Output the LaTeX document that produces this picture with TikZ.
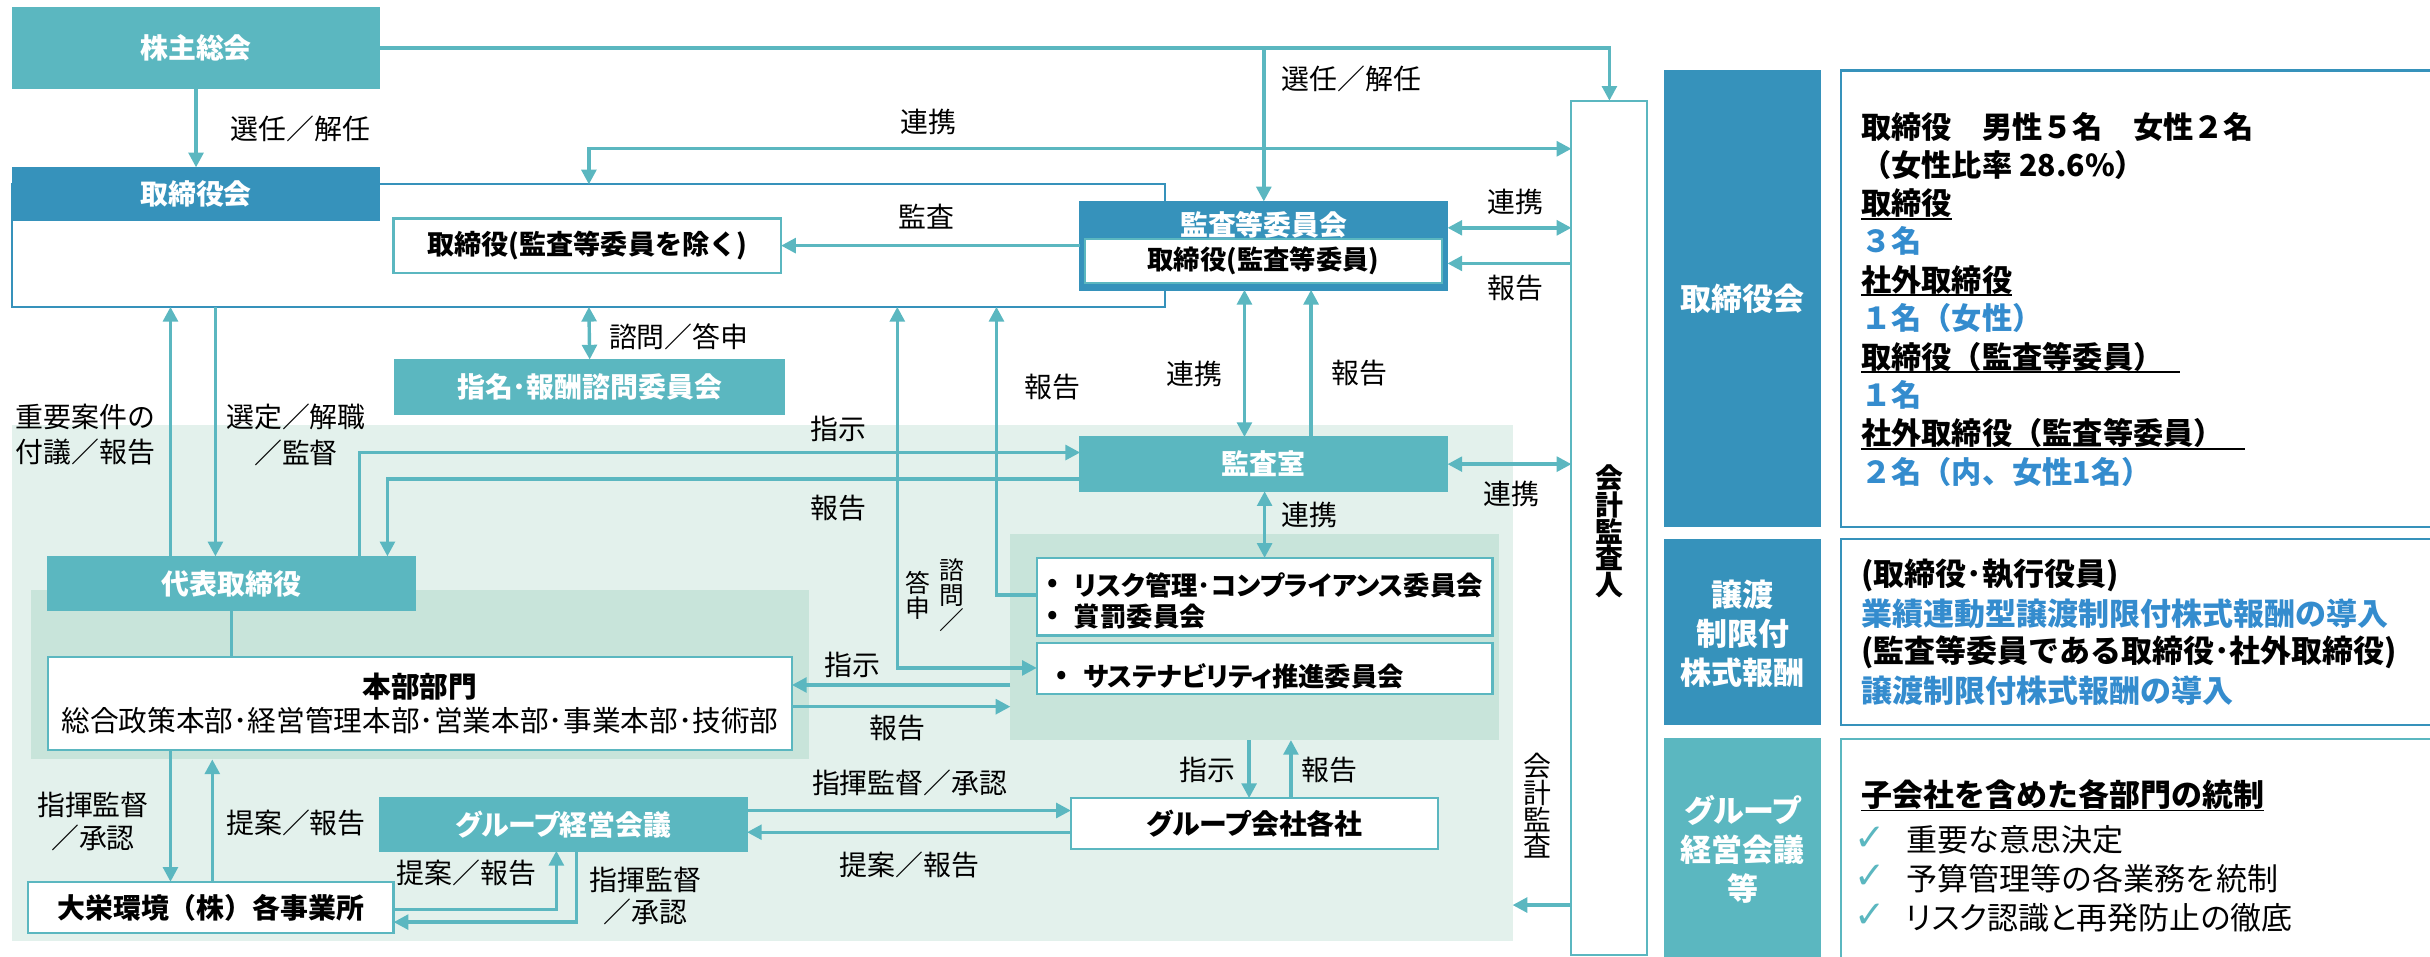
\documentclass[tikz,border=0pt]{standalone}
\usepackage{fontspec}
\setmainfont{Noto Sans CJK JP}
\newfontfamily\jpk{Noto Sans CJK JP}[RawFeature=+palt]
\newfontfamily\symfam{DejaVu Sans}
\usetikzlibrary{arrows.meta}
\definecolor{teal1}{RGB}{91,183,192}
\definecolor{navy1}{RGB}{54,146,187}
\definecolor{bgl}{RGB}{227,241,236}
\definecolor{bgm}{RGB}{200,228,218}
\definecolor{bluetxt}{RGB}{52,140,206}
\tikzset{
  tealbox/.style={fill=teal1, draw=teal1, line width=1pt, text=white, font=\fontsize{18}{21}\selectfont\bfseries},
  navybox/.style={fill=navy1, draw=navy1, line width=1pt, text=white, font=\fontsize{18}{21}\selectfont\bfseries},
  whitebox/.style={fill=white, draw=teal1, line width=1.5pt, font=\fontsize{18}{21}\selectfont\bfseries},
  conn/.style={draw=teal1, line width=2.2pt},
  arr/.style={conn, -{Triangle[length=9.5pt,width=9.5pt]}},
  darr/.style={conn, {Triangle[length=9.5pt,width=9.5pt]}-{Triangle[length=9.5pt,width=9.5pt]}},
  lbl/.style={font=\fontsize{18}{23}\selectfont},
  rtxt/.style={anchor=west, font=\fontsize{19.5}{22}\selectfont\bfseries},
  rblue/.style={rtxt, text=bluetxt},
  stxt/.style={anchor=west, font=\fontsize{20}{22}\selectfont\bfseries},
  sblue/.style={stxt, text=bluetxt},
  gtxt/.style={anchor=west, font=\fontsize{20}{22}\selectfont},
  chk/.style={text=teal1, font=\symfam\fontsize{24}{26}\selectfont},
  uline/.style={draw=black, line width=1.2pt},
  sidelab/.style={text=white, align=center, font=\fontsize{20}{25}\selectfont\bfseries},
}
\begin{document}
\begin{tikzpicture}[x=1pt,y=-1pt, every node/.style={inner sep=0pt, outer sep=0pt}]
\useasboundingbox (0,0) rectangle (1568,617);

% backgrounds
\node[fill=bgl, minimum width=968, minimum height=333] (bgbig) at (492,440.5) {};
\node[fill=bgm, minimum width=502, minimum height=109] (bghonbu) at (271,435.5) {};
\node[fill=bgm, minimum width=315, minimum height=133] (bgcomm) at (809.5,411) {};

% main boxes
\node[tealbox, minimum width=237, minimum height=52] (kabu) at (126.5,31) {株主総会};
\node[draw=navy1, line width=1.3pt, minimum width=744, minimum height=79] (board) at (380,158.5) {};
\node[navybox, minimum width=237, minimum height=34] (boardhead) at (126.5,125) {取締役会};
\node[whitebox, minimum width=250, minimum height=35, font=\fontsize{17.5}{21}\selectfont\bfseries] (torijo) at (379,158.5) {取締役(監査等委員を除く)};
\node[navybox, minimum width=237, minimum height=57] (kansa) at (815.5,158.5) {};
\node[text=white, font=\fontsize{18}{21}\selectfont\bfseries] (kansatitle) at (815.5,145) {監査等委員会};
\node[fill=white, draw=teal1, line width=1.3pt, minimum width=230, minimum height=28, font=\fontsize{17}{21}\selectfont\bfseries] (kansain) at (815.3,168.4) {取締役(監査等委員)};
\node[tealbox, minimum width=251, minimum height=35] (shimei) at (380.5,249.5) {指名･報酬諮問委員会};
\node[tealbox, minimum width=237, minimum height=35] (kansashitsu) at (815.5,299.5) {監査室};
\node[tealbox, minimum width=237, minimum height=35] (daihyo) at (149.5,376.5) {代表取締役};
\node[whitebox, minimum width=480, minimum height=60, align=center, font=\fontsize{18.5}{22}\selectfont] (honbu) at (271,454) {{\bfseries 本部部門}\\総合政策本部･経営管理本部･営業本部･事業本部･技術部};
\node[whitebox, minimum width=294, minimum height=50] (risk) at (816,385) {};
\node[whitebox, minimum width=294, minimum height=33] (sustain) at (816,431.5) {};
\node[font=\fontsize{17}{20}\selectfont\bfseries] (b1) at (679,377.8) {•};
\node[anchor=west, font=\jpk\fontsize{17}{20}\selectfont\bfseries] (risk1) at (693,377.5) {リスク管理･コンプライアンス委員会};
\node[font=\fontsize{17}{20}\selectfont\bfseries] (b2) at (679,398.3) {•};
\node[anchor=west, font=\jpk\fontsize{17}{20}\selectfont\bfseries] (risk2) at (693,398) {賞罰委員会};
\node[font=\fontsize{17}{20}\selectfont\bfseries] (b3) at (685,437.4) {•};
\node[anchor=west, font=\jpk\fontsize{17}{20}\selectfont\bfseries] (sus1) at (699,436.6) {サステナビリティ推進委員会};
\node[tealbox, minimum width=237, minimum height=34, font=\jpk\fontsize{18}{21}\selectfont\bfseries] (groupmeet) at (363.5,532) {グループ経営会議};
\node[whitebox, minimum width=237, minimum height=33, font=\jpk\fontsize{18}{21}\selectfont\bfseries] (groupco) at (809.5,531.5) {グループ会社各社};
\node[whitebox, minimum width=236, minimum height=33] (daiei) at (136,585.5) {大栄環境（株）各事業所};
\node[fill=white, draw=teal1, line width=1.3pt, minimum width=49, minimum height=551] (kaikei) at (1038.5,340.5) {};
\node[align=center, font=\fontsize{18}{17.2}\selectfont\bfseries] (kaikeitxt) at (1038.5,343) {会\\計\\監\\査\\人};

% helper coordinates
\coordinate (y96) at (0,96);
\coordinate (y147) at (0,147);
\coordinate (y170) at (0,170);
\coordinate (y292) at (0,292);
\coordinate (y309) at (0,309);
\coordinate (y384) at (0,384);
\coordinate (y431) at (0,431);
\coordinate (y442) at (0,442);
\coordinate (y456) at (0,456);
\coordinate (y523) at (0,523);
\coordinate (y537) at (0,537);
\coordinate (y584) at (0,584);
\coordinate (y587) at (0,587);
\coordinate (y595) at (0,595);
\coordinate (x110) at (110,0);
\coordinate (x137) at (137,0);
\coordinate (x139) at (139,0);
\coordinate (x232) at (232,0);
\coordinate (x250) at (250,0);
\coordinate (x359) at (359,0);
\coordinate (x372) at (372,0);
\coordinate (x579) at (579,0);
\coordinate (x643) at (643,0);
\coordinate (x803) at (803,0);
\coordinate (x806) at (806,0);
\coordinate (x833) at (833,0);
\coordinate (x846) at (846,0);

% connectors
\draw[arr] (kabu.south) -- (boardhead.north);
\draw[arr] (kabu.east) -- (kabu.east -| kaikei.north) -- (kaikei.north);
\draw[arr] (kabu.east -| kansa.north) -- (kansa.north);
\draw[darr] (board.north) |- (kaikei.west |- y96);
\draw[arr] (kansa.west |- torijo.east) -- (torijo.east);
\draw[darr] (kansa.east |- y147) -- (kaikei.west |- y147);
\draw[arr] (kaikei.west |- y170) -- (kansa.east |- y170);
\draw[darr] (board.south) -- (shimei.north);
\draw[arr] (daihyo.north -| x110) -- (board.south -| x110);
\draw[arr] (board.south -| x139) -- (daihyo.north -| x139);
\draw[arr] (daihyo.north -| x232) |- (kansashitsu.west |- y292);
\draw[arr] (kansashitsu.west |- y309) -| (daihyo.north -| x250);
\draw[arr] (risk.west |- y384) -| (board.south -| x643);
\draw[darr] (board.south -| x579) |- (sustain.west |- y431);
\draw[darr] (kansa.south -| x803) -- (kansashitsu.north -| x803);
\draw[arr] (kansashitsu.north -| x846) -- (kansa.south -| x846);
\draw[darr] (kansashitsu.east) -- (kaikei.west |- kansashitsu.east);
\draw[darr] (kansashitsu.south -| risk.north) -- (risk.north);
\draw[conn] (daihyo.south) -- (honbu.north -| daihyo.south);
\draw[arr] (bgcomm.west |- y442) -- (honbu.east |- y442);
\draw[arr] (honbu.east |- y456) -- (bgcomm.west |- y456);
\draw[arr] (honbu.south -| x110) -- (daiei.north -| x110);
\draw[arr] (daiei.north -| x137) -- (bghonbu.south -| x137);
\draw[arr] (daiei.east |- y587) -| (groupmeet.south -| x359);
\draw[arr] (groupmeet.south -| x372) |- (daiei.east |- y595);
\draw[arr] (groupmeet.east |- y523) -- (groupco.west |- y523);
\draw[arr] (groupco.west |- y537) -- (groupmeet.east |- y537);
\draw[arr] (bgcomm.south -| x806) -- (groupco.north -| x806);
\draw[arr] (groupco.north -| x833) -- (bgcomm.south -| x833);
\draw[arr] (kaikei.west |- y584) -- (bgbig.east |- y584);

% labels
\node[lbl] (Ls1) at (194,83) {選任／解任};
\node[lbl] (Ls2) at (872,51) {選任／解任};
\node[lbl] (Lr1) at (599,79) {連携};
\node[lbl] (Lk) at (598,140) {監査};
\node[lbl] (Lr2) at (978,130) {連携};
\node[lbl] (Lh1) at (978,186) {報告};
\node[lbl] (Lsh) at (438,217) {諮問／答申};
\node[lbl, align=center] (Lj) at (55,280.5) {重要案件の\\付議／報告};
\node[lbl, align=center] (Lst) at (191,280.5) {選定／解職\\／監督};
\node[lbl] (Lsj1) at (541,277) {指示};
\node[lbl] (Lh2) at (541,328) {報告};
\node[lbl] (Lh3) at (679,250) {報告};
\node[lbl] (Lr3) at (771,241) {連携};
\node[lbl] (Lh4) at (877,241) {報告};
\node[lbl] (Lr4) at (845,332) {連携};
\node[lbl] (Lr5) at (975,319) {連携};
\node[lbl, align=center, font=\fontsize{16}{16}\selectfont] (Lv1) at (614,384) {諮\\問\\／};
\node[lbl, align=center, font=\fontsize{16}{16}\selectfont] (Lv2) at (592,384) {答\\申};
\node[lbl] (Lsj2) at (550,429) {指示};
\node[lbl] (Lh5) at (579,470) {報告};
\node[lbl, align=center, font=\fontsize{18}{21.6}\selectfont] (Lsk1) at (60,530) {指揮監督\\／承認};
\node[lbl] (Lt1) at (191,531) {提案／報告};
\node[lbl] (Lt2) at (301,563) {提案／報告};
\node[lbl, align=center, font=\fontsize{18}{20.5}\selectfont] (Lsk2) at (416.5,578) {指揮監督\\／承認};
\node[lbl] (Lsk3) at (587,505) {指揮監督／承認};
\node[lbl] (Lt3) at (587,558) {提案／報告};
\node[lbl] (Lsj3) at (779,497) {指示};
\node[lbl] (Lh6) at (858,497) {報告};
\node[lbl, align=center, font=\fontsize{18}{17.3}\selectfont] (Lkk) at (992,520) {会\\計\\監\\査};

% right panel
\node[fill=navy1, minimum width=101, minimum height=295] (lab1) at (1124.5,192.5) {};
\node[sidelab] (lab1t) at (1124.5,192.5) {取締役会};
\node[fill=white, draw=navy1, line width=1.5pt, minimum width=392, minimum height=294.5] (con1) at (1384,192.75) {};
\node[fill=navy1, minimum width=101, minimum height=120] (lab2) at (1124.5,408) {};
\node[sidelab] (lab2t) at (1124.5,409) {譲渡\\制限付\\株式報酬};
\node[fill=white, draw=navy1, line width=1.5pt, minimum width=392, minimum height=120] (con2) at (1384,408) {};
\node[fill=teal1, minimum width=101, minimum height=154] (lab3) at (1124.5,553) {};
\node[sidelab] (lab3t) at (1124.5,548) {{\jpk グループ}\\経営会議\\等};
\node[fill=white, draw=teal1, line width=1.5pt, minimum width=392, minimum height=153] (con3) at (1384,553.5) {};

\node[rtxt] (r1) at (1201,81.7) {取締役　男性５名　女性２名};
\node[rtxt] (r2) at (1201,106.5) {（女性比率 28.6\%）};
\node[rtxt] (r3) at (1201,131.2) {取締役};
\node[rblue] (r4) at (1201,155.4) {３名};
\node[rtxt] (r5) at (1201,180.7) {社外取締役};
\node[rblue] (r6) at (1201,205.4) {１名（女性）};
\node[rtxt] (r7) at (1201,230.1) {取締役（監査等委員）};
\node[rblue] (r8) at (1201,254.9) {１名};
\node[rtxt] (r9) at (1201,279.6) {社外取締役（監査等委員）};
\node[rblue] (r10) at (1201,304.4) {２名（内、女性1名）};
\draw[uline] (1201,141.3) -- (r3.east |- 0,141.3);
\draw[uline] (1201,190.4) -- (r5.east |- 0,190.4);
\draw[uline] (1201,240.3) -- (1406.7,240.3);
\draw[uline] (1201,289.7) -- (1448.4,289.7);

\node[stxt] (s1) at (1201,371.6) {(取締役･執行役員)};
\node[sblue] (s2) at (1201,396.3) {業績連動型譲渡制限付株式報酬の導入};
\node[stxt] (s3) at (1201,421) {(監査等委員である取締役･社外取締役)};
\node[sblue] (s4) at (1201,445.8) {譲渡制限付株式報酬の導入};

\node[stxt] (t1) at (1201,512.5) {子会社を含めた各部門の統制};
\draw[uline] (1201,523) -- (t1.east |- 0,523);
\node[chk] (c1) at (1207,541) {✓};
\node[gtxt] (g1) at (1230,542) {重要な意思決定};
\node[chk] (c2) at (1207,566) {✓};
\node[gtxt] (g2) at (1230,567) {予算管理等の各業務を統制};
\node[chk] (c3) at (1207,591) {✓};
\node[gtxt, font=\jpk\fontsize{20}{22}\selectfont] (g3) at (1230,592) {リスク認識と再発防止の徹底};
\end{tikzpicture}
\end{document}
